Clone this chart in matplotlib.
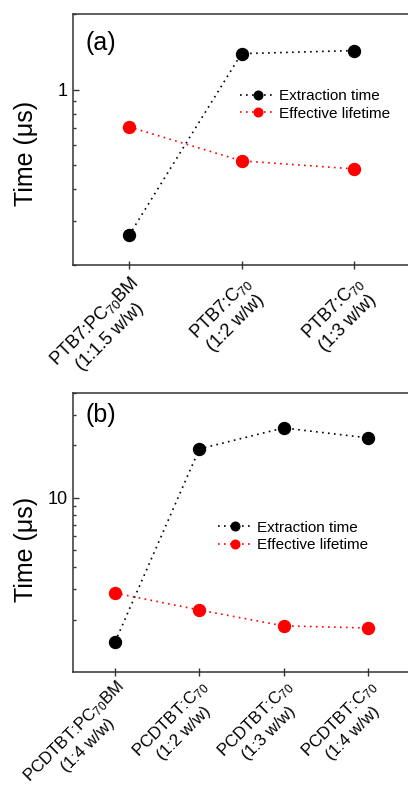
import numpy as np
import matplotlib
matplotlib.use('Agg')
import matplotlib.pyplot as plt
from matplotlib.ticker import LogLocator, NullFormatter, FixedLocator, FixedFormatter

plt.rcParams['font.family'] = ['Liberation Sans', 'DejaVu Sans']
plt.rcParams['mathtext.default'] = 'regular'

# panel (a) PTB7 blends
labels_a = ['PTB7:PC$_{70}$BM\n(1:1.5 w/w)', 'PTB7:C$_{70}$\n(1:2 w/w)', 'PTB7:C$_{70}$\n(1:3 w/w)']
extraction_a = [0.263, 1.39, 1.43]
lifetime_a = [0.71, 0.52, 0.483]

# panel (b) PCDTBT blends
labels_b = ['PCDTBT:PC$_{70}$BM\n(1:4 w/w)', 'PCDTBT:C$_{70}$\n(1:2 w/w)',
            'PCDTBT:C$_{70}$\n(1:3 w/w)', 'PCDTBT:C$_{70}$\n(1:4 w/w)']
extraction_b = [1.49, 19.1, 25.2, 22.1]
lifetime_b = [2.84, 2.27, 1.84, 1.79]

W, H = 408, 789
fig = plt.figure(figsize=(W/100, H/100), dpi=100)
ax1 = fig.add_axes([73/W, 1-265/H, 337/W, 251/H])
ax2 = fig.add_axes([73/W, 1-672/H, 337/W, 279/H])

spine_c = '#333333'
dots = (0, (1, 2.6))


def draw(ax, labels, ext, life, ylim, major, tag, tagy, leg_xy, ylab_y, xfs, xpad):
    x = np.arange(1, len(labels)+1)
    ax.plot(x, ext, color='black', linestyle=dots, linewidth=1.2, marker='o',
            markersize=8.6, label='Extraction time')
    ax.plot(x, life, color='red', linestyle=dots, linewidth=1.2, marker='o',
            markersize=8.6, label='Effective lifetime')
    ax.set_yscale('log')
    ax.set_ylim(*ylim)
    ax.set_xlim(0.5, len(labels)+0.5)
    ax.yaxis.set_major_locator(FixedLocator([major]))
    ax.yaxis.set_major_formatter(FixedFormatter([str(major)]))
    ax.yaxis.set_minor_locator(LogLocator(base=10, subs=np.arange(2, 10)))
    ax.yaxis.set_minor_formatter(NullFormatter())
    ax.set_xticks(x)
    ax.set_xticklabels(labels, rotation=45, ha='right', va='top',
                       rotation_mode='anchor', multialignment='center', fontsize=xfs)
    ax.tick_params(axis='y', which='major', direction='in', length=4.5, width=1,
                   labelsize=13, pad=4, color=spine_c)
    ax.tick_params(axis='y', which='minor', direction='in', length=2.5, width=1, color=spine_c)
    ax.tick_params(axis='x', which='major', direction='inout', length=6, width=1,
                   pad=xpad, color=spine_c)
    for s in ax.spines.values():
        s.set_color(spine_c)
        s.set_linewidth(1.1)
    ax.set_ylabel('Time (μs)', fontsize=18)
    ax.yaxis.set_label_coords(-0.103, ylab_y)
    ax.text(0.037, tagy, tag, transform=ax.transAxes, fontsize=18, va='center', ha='left')
    ax.legend(loc='center left', bbox_to_anchor=leg_xy, frameon=False, fontsize=11,
              borderpad=0, borderaxespad=0, handlelength=2.3, handletextpad=0.25,
              labelspacing=0.22, numpoints=1, markerscale=0.72)


draw(ax1, labels_a, extraction_a, lifetime_a, (0.2, 2), 1, '(a)', 0.884, (0.496, 0.637), 0.446, 13, 3)
draw(ax2, labels_b, extraction_b, lifetime_b, (1, 40), 10, '(b)', 0.921, (0.430, 0.486), 0.441, 12.2, 1)

fig.savefig('out.png', dpi=100)
